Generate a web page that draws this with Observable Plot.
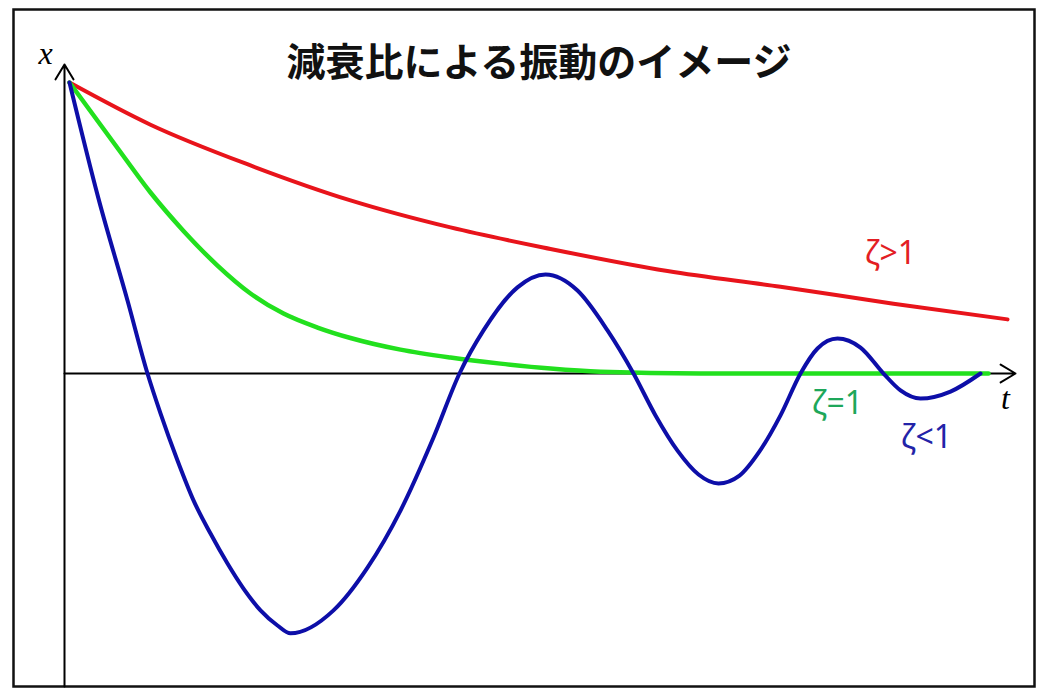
<!DOCTYPE html>
<html>
<head>
<meta charset="utf-8">
<script src="https://cdn.jsdelivr.net/npm/d3@7"></script>
<script src="https://cdn.jsdelivr.net/npm/@observablehq/plot@0.6"></script>
<style>
  html, body { margin: 0; padding: 0; background: #fff; }
  #chart { position: relative; width: 1048px; height: 696px; }
  #title { position: absolute; left: 0; width: 1078px; top: 36px; text-align: center;
           font-family: "Noto Sans CJK JP", sans-serif; font-weight: bold; font-size: 39px; color: #111; line-height: 46px; }
  svg { display: block; }
</style>
</head>
<body>
<div id="chart"><div id="title">減衰比による振動のイメージ</div></div>
<script>
// ζ>1 (overdamped)
const redT = [0.05, 0.86, 1.86, 2.86, 3.86, 4.86, 6.03, 7.16, 8.29, 9.43];
const redX = [1.0, 0.855, 0.715, 0.595, 0.502, 0.428, 0.352, 0.298, 0.240, 0.186];
// ζ=1 (critically damped)
const greenT = [0.05, 0.53, 0.86, 1.19, 1.53, 1.86, 2.19, 2.53, 2.86, 3.36, 3.86, 4.36, 4.86, 5.36, 6.36, 9.24];
const greenX = [1.0, 0.775, 0.622, 0.490, 0.371, 0.275, 0.206, 0.158, 0.122, 0.082, 0.055, 0.034, 0.017, 0.006, 0, 0];
// ζ<1 (underdamped)
const blueT = [0.05, 0.34, 0.63, 0.83, 0.96, 1.13, 1.29, 1.46, 1.63, 1.79, 1.96, 2.13, 2.26,
               2.69, 3.03, 3.36, 3.69, 3.95, 4.19, 4.53, 4.81, 5.13, 5.43, 5.69,
               5.91, 6.13, 6.34, 6.54, 6.75, 6.95, 7.16, 7.36,
               7.53, 7.73, 7.96, 8.19, 8.36, 8.56, 8.86, 9.16];
const blueX = [1.0, 0.601, 0.251, 0, -0.137, -0.299, -0.436, -0.550, -0.653, -0.739, -0.814, -0.866, -0.893,
               -0.814, -0.667, -0.471, -0.220, 0, 0.148, 0.296, 0.340, 0.285, 0.148, 0,
               -0.144, -0.265, -0.347, -0.378, -0.351, -0.268, -0.144, 0,
               0.086, 0.120, 0.089, 0, -0.058, -0.086, -0.062, 0];

const seriesLabels = ["ζ>1", "ζ=1", "ζ<1"];

const tDomain = [-0.51, 9.70];
const xDomain = [-1.0756, 1.2509];

const toRows = (ts, xs) => ts.map((t, i) => ({t, x: xs[i]}));
const red = toRows(redT, redX);
const green = toRows(greenT, greenX);
const blue = toRows(blueT, blueX);

const axes = [
  {x1: 0, y1: xDomain[0], x2: 0, y2: 1.062},
  {x1: 0, y1: 0, x2: 9.51, y2: 0}
];

const labels = [
  {t: 8.26, x: 0.412, text: seriesLabels[0], color: "#e31e24"},
  {t: 7.73, x: -0.103, text: seriesLabels[1], color: "#1ea75a"},
  {t: 8.62, x: -0.220, text: seriesLabels[2], color: "#2323a8"}
];
const axisLabels = [
  {t: -0.19, x: 1.10, text: "x"},
  {t: 9.41, x: -0.086, text: "t"}
];

const plot = Plot.plot({
  width: 1048,
  height: 696,
  marginLeft: 13, marginTop: 9, marginRight: 14, marginBottom: 10,
  x: {domain: tDomain, axis: null},
  y: {domain: xDomain, axis: null},
  style: {background: "transparent"},
  marks: [
    Plot.frame({stroke: "#111", strokeWidth: 2.5}),
    Plot.arrow(axes, {x1: "x1", y1: "y1", x2: "x2", y2: "y2", stroke: "#000", strokeWidth: 2, headLength: 13, headAngle: 62}),
    Plot.line(red, {x: "t", y: "x", stroke: "#e8141b", strokeWidth: 4, curve: "monotone-x"}),
    Plot.line(green, {x: "t", y: "x", stroke: "#22e01e", strokeWidth: 4.5, curve: "monotone-x"}),
    Plot.line(blue, {x: "t", y: "x", stroke: "#0d0ea8", strokeWidth: 4, curve: "monotone-x"}),
    Plot.text(labels, {x: "t", y: "x", text: "text", fill: "color", fontSize: 32, fontFamily: "Noto Sans"}),
    Plot.text(axisLabels, {x: "t", y: "x", text: "text", fill: "#000", fontSize: 32, fontStyle: "italic", fontFamily: "Liberation Serif"})
  ]
});
document.getElementById("chart").prepend(plot);
</script>
</body>
</html>
